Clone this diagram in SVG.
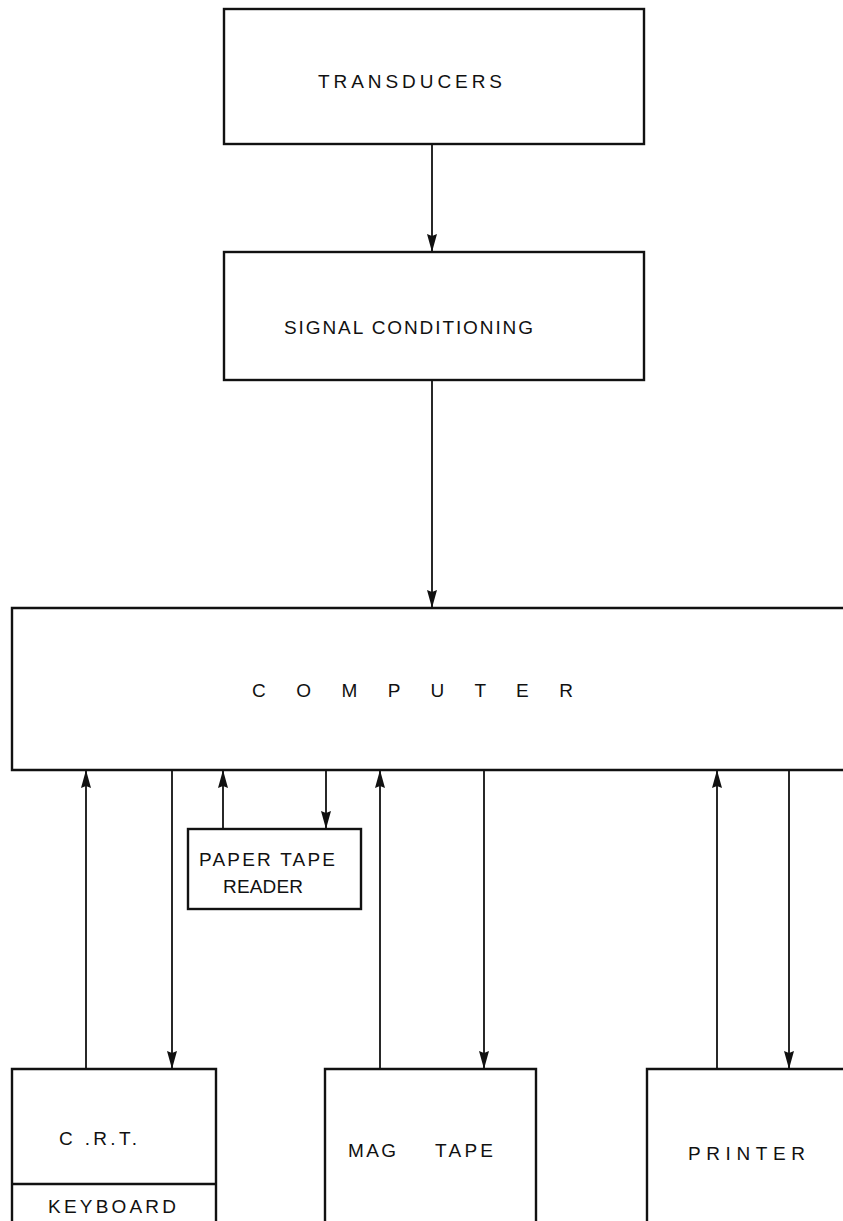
<svg xmlns="http://www.w3.org/2000/svg" width="843" height="1221" viewBox="0 0 843 1221">
  <defs>
    <style>
      .box { fill: none; stroke: #111; stroke-width: 2.4; }
      .conn { fill: none; stroke: #111; stroke-width: 1.8; }
      .lbl { font-family: "Liberation Sans", Arial, sans-serif; font-size: 19px; fill: #111; }
    </style>
    <marker id="arr" markerUnits="userSpaceOnUse" markerWidth="18" markerHeight="10" refX="18" refY="5" orient="auto">
      <path d="M0,0 L18,5 L0,10 L2,5 z" fill="#111"/>
    </marker>
  </defs>
  <rect x="0" y="0" width="843" height="1221" fill="#fff"/>

  <g id="transducers">
    <rect class="box" x="224" y="9" width="420" height="135"/>
    <text class="lbl" x="318" y="88" textLength="184" lengthAdjust="spacing">TRANSDUCERS</text>
  </g>

  <g id="signal-conditioning">
    <rect class="box" x="224" y="252" width="420" height="128"/>
    <text class="lbl" x="284" y="334" textLength="249" lengthAdjust="spacing">SIGNAL CONDITIONING</text>
  </g>

  <g id="computer">
    <path class="box" d="M843,608 H12 V770 H843"/>
    <text class="lbl" x="252" y="697" textLength="321" lengthAdjust="spacing">C O M P U T E R</text>
  </g>

  <g id="paper-tape-reader">
    <rect class="box" x="188" y="829" width="173" height="80"/>
    <text class="lbl" x="199" y="866" textLength="136" lengthAdjust="spacing">PAPER TAPE</text>
    <text class="lbl" x="223" y="893" textLength="80" lengthAdjust="spacing">READER</text>
  </g>

  <g id="crt-keyboard">
    <path class="box" d="M12,1221 V1069 H216 V1221"/>
    <line class="box" x1="12" y1="1184" x2="216" y2="1184"/>
    <text class="lbl" x="59" y="1145" textLength="78" lengthAdjust="spacing">C .R.T.</text>
    <text class="lbl" x="48" y="1213" textLength="128" lengthAdjust="spacing">KEYBOARD</text>
  </g>

  <g id="mag-tape">
    <path class="box" d="M325,1221 V1069 H536 V1221"/>
    <text class="lbl" y="1157"><tspan x="348" textLength="48" lengthAdjust="spacing">MAG</tspan><tspan x="435" textLength="58" lengthAdjust="spacing">TAPE</tspan></text>
  </g>

  <g id="printer">
    <path class="box" d="M843,1069 H647 V1221"/>
    <text class="lbl" x="688" y="1160" textLength="117" lengthAdjust="spacing">PRINTER</text>
  </g>

  <g id="connectors">
    <line class="conn" x1="432" y1="144" x2="432" y2="252" marker-end="url(#arr)"/>
    <line class="conn" x1="432" y1="380" x2="432" y2="608" marker-end="url(#arr)"/>
    <line class="conn" x1="86" y1="1069" x2="86" y2="770" marker-end="url(#arr)"/>
    <line class="conn" x1="172" y1="770" x2="172" y2="1069" marker-end="url(#arr)"/>
    <line class="conn" x1="223" y1="829" x2="223" y2="770" marker-end="url(#arr)"/>
    <line class="conn" x1="326" y1="770" x2="326" y2="829" marker-end="url(#arr)"/>
    <line class="conn" x1="380" y1="1069" x2="380" y2="770" marker-end="url(#arr)"/>
    <line class="conn" x1="484" y1="770" x2="484" y2="1069" marker-end="url(#arr)"/>
    <line class="conn" x1="717" y1="1069" x2="717" y2="770" marker-end="url(#arr)"/>
    <line class="conn" x1="789" y1="770" x2="789" y2="1069" marker-end="url(#arr)"/>
  </g>
</svg>
